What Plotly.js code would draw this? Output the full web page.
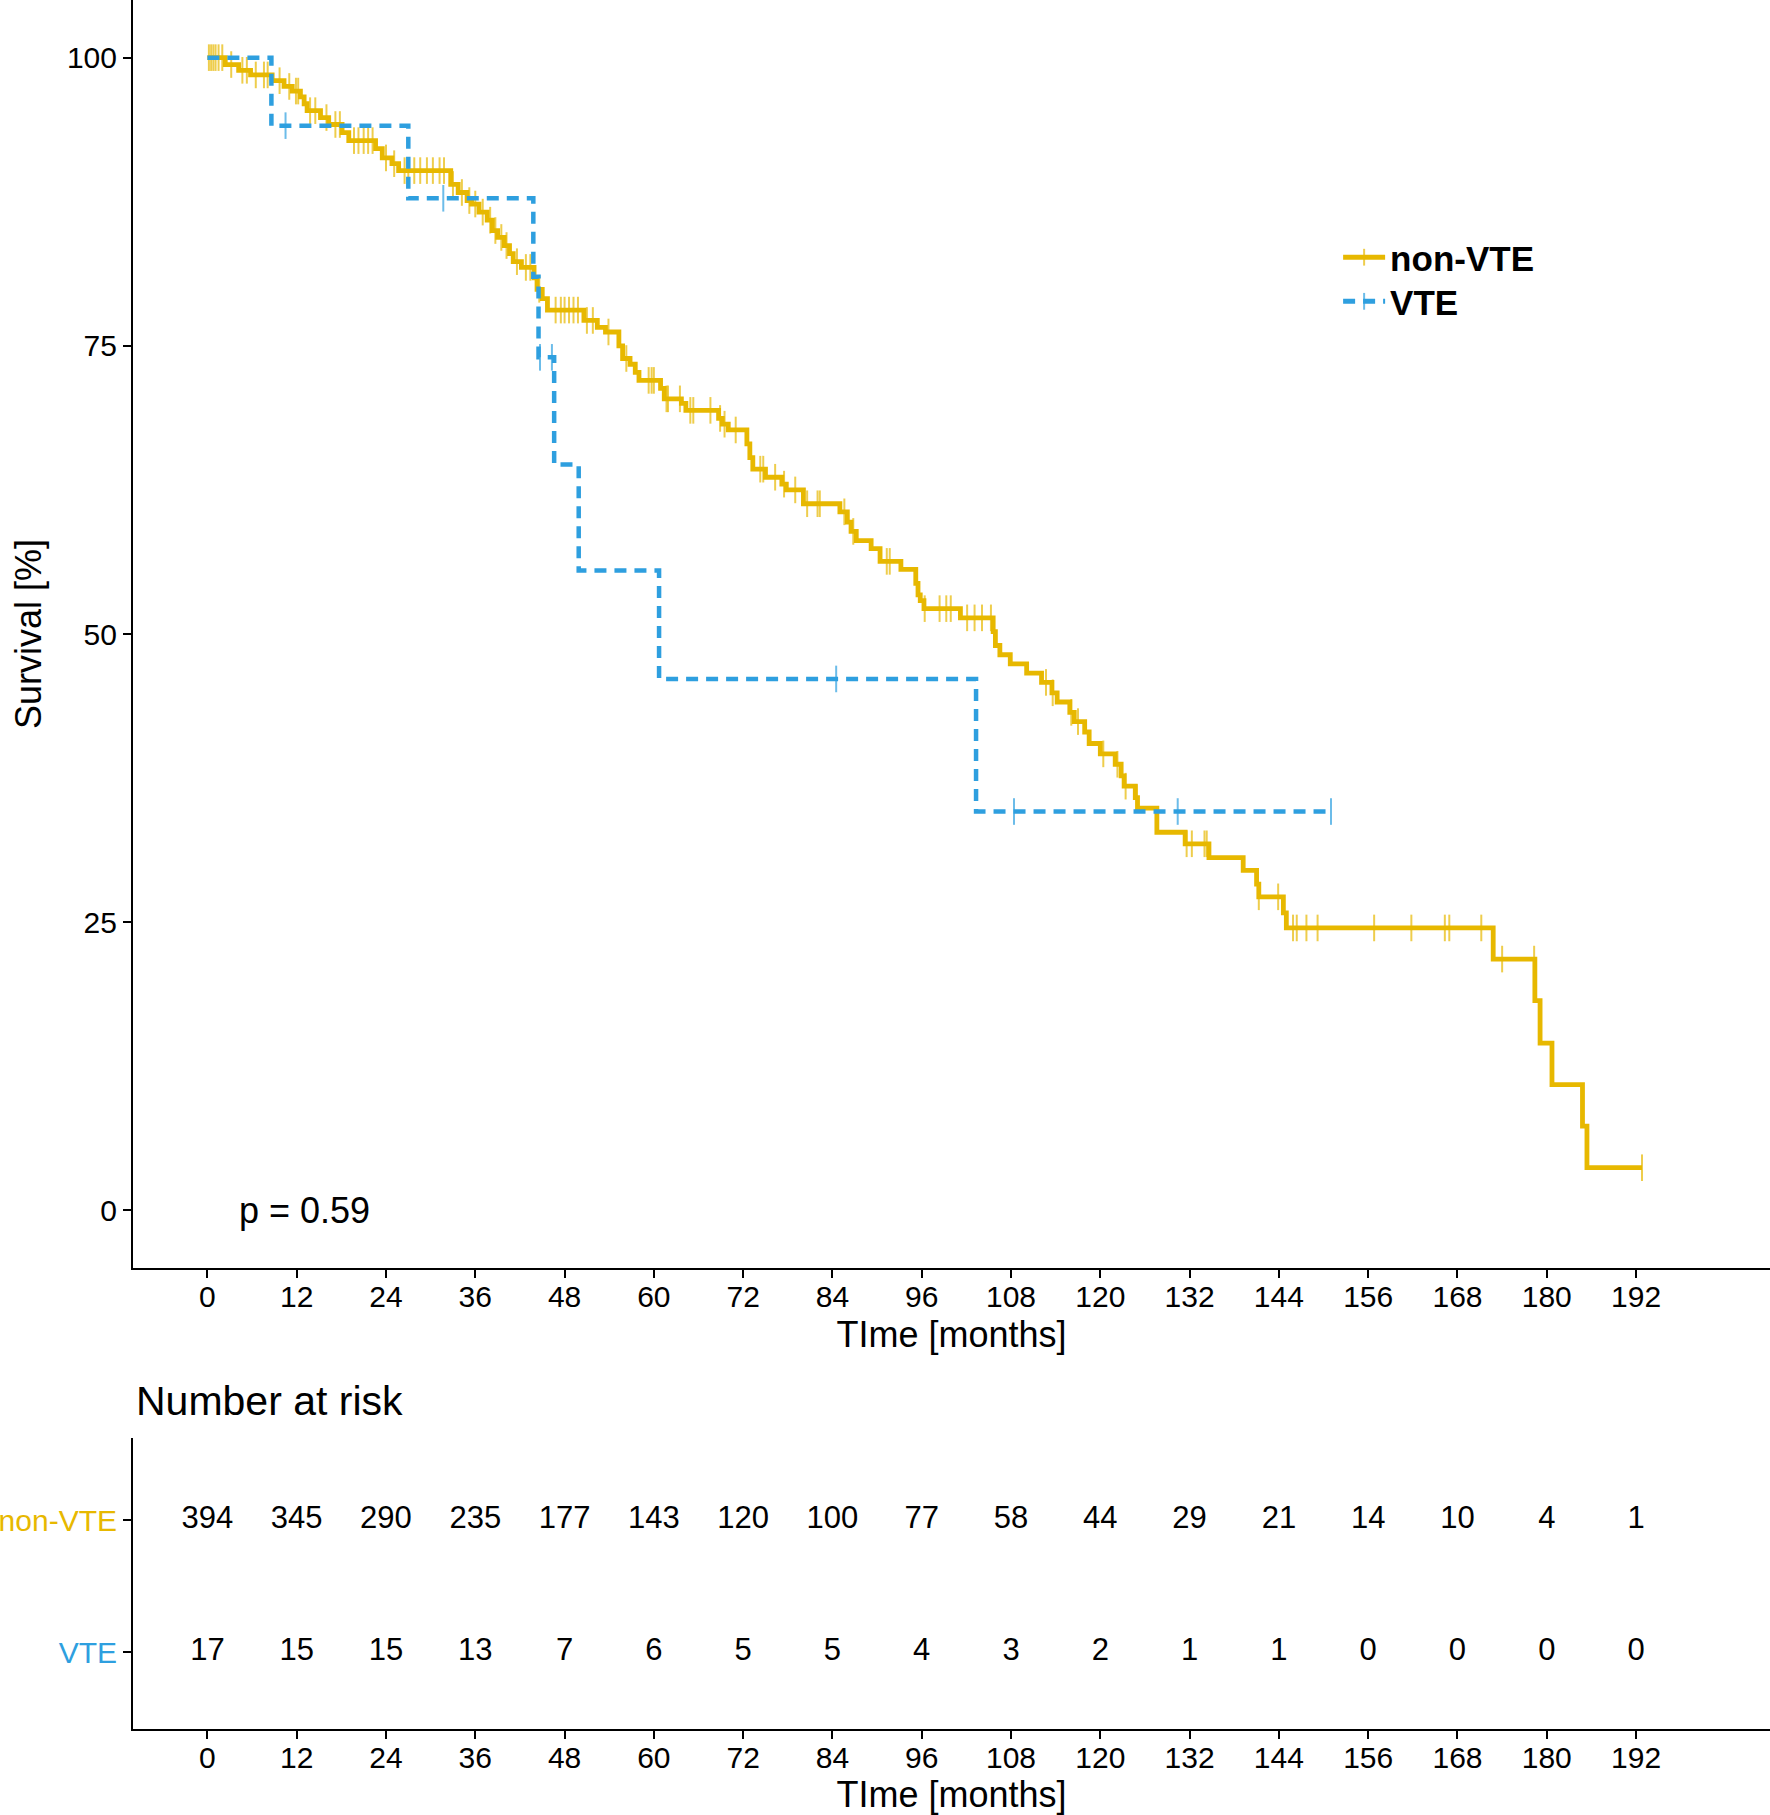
<!DOCTYPE html>
<html>
<head>
<meta charset="utf-8">
<script src="https://cdn.plot.ly/plotly-3.0.1.min.js"></script>
<style>html,body{margin:0;padding:0;background:#fff;}#chart{width:1770px;height:1815px;}</style>
</head>
<body>
<div id="chart"></div>
<script>
// ---- data ----
const months = [0,12,24,36,48,60,72,84,96,108,120,132,144,156,168,180,192];
const riskNonVTE = [394,345,290,235,177,143,120,100,77,58,44,29,21,14,10,4,1];
const riskVTE = [17,15,15,13,7,6,5,5,4,3,2,1,1,0,0,0,0];

// non-VTE Kaplan-Meier steps: time of step and survival [%] after it
const nonVteTime = [0,2.4,4.2,5.8,8.7,10.3,11.4,12.5,13.0,13.4,15.2,16.3,18.1,19.0,22.6,23.5,24.8,25.7,
  32.7,33.7,34.9,35.5,36.5,37.6,38.3,39.0,39.9,40.6,41.1,42.2,43.9,44.3,45.0,45.7,
  50.6,52.4,53.5,55.3,55.8,56.8,57.5,58.0,60.9,61.4,63.7,64.3,68.7,69.2,70.0,
  72.5,72.9,73.3,75.0,77.2,77.8,80.1,85.0,86.0,86.5,87.2,89.2,90.4,93.2,95.2,95.5,95.8,96.3,
  101.2,105.6,105.9,106.5,107.9,110.1,112.1,113.5,114.2,115.9,116.5,117.9,118.5,120.0,
  122.0,122.8,123.2,124.7,125.0,127.6,131.4,134.6,139.2,141.0,141.3,144.6,145.0,
  172.8,178.4,179.1,180.7,184.8,185.4,192.8];
const nonVteSurv = [100,99.4,98.9,98.5,98.0,97.5,97.1,96.6,96.0,95.4,94.8,94.2,93.5,92.8,92.1,91.3,90.8,90.2,
  89.0,88.3,87.6,87.3,86.6,85.9,85.0,84.4,83.7,83.0,82.3,81.8,80.9,79.9,79.1,78.1,
  77.2,76.6,76.2,75.0,73.9,73.4,72.7,72.0,71.3,70.4,70.0,69.4,68.7,68.2,67.7,
  66.5,65.3,64.3,63.6,63.0,62.5,61.3,60.6,59.7,58.9,58.1,57.4,56.3,55.6,54.4,53.4,52.9,52.2,
  51.4,50.2,49.0,48.2,47.4,46.6,45.8,44.9,44.1,43.2,42.4,41.5,40.5,39.6,
  38.7,37.7,36.8,35.8,34.9,32.8,31.8,30.6,29.5,28.3,27.2,25.8,24.5,
  21.8,18.2,14.5,10.9,7.3,3.7,3.7];
const nonVteCensor = [0.2,0.5,0.8,1.1,1.5,2.0,3.2,4.7,5.3,6.5,7.6,8.1,9.7,11.0,11.9,12.2,13.8,14.5,16.0,17.2,17.8,
  19.7,20.3,21.0,21.6,22.2,24.0,25.1,26.5,27.0,27.8,28.6,29.5,30.3,31.2,31.8,33.0,34.2,35.2,36.0,37.0,38.0,
  38.7,39.5,40.2,41.6,42.8,43.4,44.6,46.8,47.5,48.0,48.6,49.2,49.8,51.0,51.8,53.9,56.3,59.3,59.7,60.0,61.7,
  61.9,63.5,64.9,65.3,67.6,68.9,69.5,71.0,74.3,74.7,76.3,77.5,79.0,80.6,82.0,82.3,85.6,86.8,91.3,91.7,96.4,
  98.4,99.3,99.9,102.1,103.1,104.1,105.3,112.7,113.6,116.1,117.0,120.4,122.3,123.4,124.9,131.6,132.3,134.0,
  134.3,141.3,143.9,145.9,146.4,147.7,149.2,156.8,161.8,166.3,166.9,171.2,174.0,178.3,192.8];

// VTE Kaplan-Meier steps
const vteTime = [0,8.6,27.0,43.8,44.5,46.6,49.9,60.7,103.3,151.0];
const vteSurv = [100,94.1,87.8,81.0,74.0,64.7,55.5,46.1,34.6,34.6];
const vteCensor = [10.5,31.7,44.7,46.3,84.5,108.4,130.4,151.0];

const groups = ["non-VTE","VTE"];
const pText = "p = 0.59";

// ---- styling ----
const YEL = "#E7B800", BLU = "#2E9FDF";
const FONT = "Liberation Sans, Arial, Helvetica, sans-serif";
const CENSOR_SIZE = 19;

function stepAt(times, surv, t){
  let v = surv[0];
  for (let i=0;i<times.length;i++){ if (times[i] <= t) v = surv[i]; }
  return v;
}
// merge step points and censor points into one step trace; censors get a tick marker
function buildCurve(times, surv, censors){
  const pts = times.map((t,i)=>({t:t, s:surv[i], m:0, o:0}))
    .concat(censors.map(t=>({t:t, s:stepAt(times,surv,t), m:CENSOR_SIZE, o:1})));
  pts.sort((a,b)=> a.t-b.t || a.o-b.o);
  return {x:pts.map(p=>p.t), y:pts.map(p=>p.s), size:pts.map(p=>p.m)};
}
const cNon = buildCurve(nonVteTime, nonVteSurv, nonVteCensor);
const cVte = buildCurve(vteTime, vteSurv, vteCensor);

const traces = [
  {x: cNon.x, y: cNon.y, type:"scatter", mode:"lines+markers", name: groups[0], legend:"legend",
   line:{shape:"hv", color:YEL, width:4.8},
   marker:{symbol:"line-ns-open", size:cNon.size, color:YEL, line:{color:YEL, width:2}},
   xaxis:"x", yaxis:"y"},
  {x: cVte.x, y: cVte.y, type:"scatter", mode:"lines+markers", name: groups[1], legend:"legend2",
   line:{shape:"hv", color:BLU, width:4.5, dash:"12px,8px"},
   marker:{symbol:"line-ns-open", size:cVte.size, color:BLU, line:{color:BLU, width:2}},
   xaxis:"x", yaxis:"y"},
  {x: months, y: months.map(()=>2), text: riskNonVTE.map(String), type:"scatter", mode:"text",
   showlegend:false, textfont:{family:FONT, size:31, color:"#000"}, xaxis:"x2", yaxis:"y2"},
  {x: months, y: months.map(()=>1), text: riskVTE.map(String), type:"scatter", mode:"text",
   showlegend:false, textfont:{family:FONT, size:31, color:"#000"}, xaxis:"x2", yaxis:"y2"}
];

const axisCommon = {
  showline:true, linecolor:"#000", linewidth:2, ticks:"outside", ticklen:8, tickwidth:2, tickcolor:"#000",
  showgrid:false, zeroline:false, tickfont:{family:FONT, size:30, color:"#000"}
};
const legendCommon = {xanchor:"left", yanchor:"top", bgcolor:"rgba(0,0,0,0)", itemsizing:"constant",
  font:{family:FONT, size:35, color:"#000", weight:"bold"}, itemwidth:42, tracegroupgap:0};

const layout = {
  width:1770, height:1815, margin:{l:0,r:0,t:0,b:0}, paper_bgcolor:"#fff", plot_bgcolor:"#fff",
  font:{family:FONT, color:"#000"},
  showlegend:true,
  legend: Object.assign({}, legendCommon, {x:0.756, y:0.8744}),
  legend2: Object.assign({}, legendCommon, {x:0.756, y:0.8501}),
  xaxis: Object.assign({}, axisCommon, {domain:[0.07514,1], range:[-10,210], tickvals:months,
    ticktext:months.map(String), anchor:"y", ticklabelstandoff:-7,
    title:{text:"TIme [months]", font:{family:FONT, size:36, color:"#000"}, standoff:10}}),
  yaxis: Object.assign({}, axisCommon, {domain:[0.30138,1], range:[-5,105], tickvals:[0,25,50,75,100],
    anchor:"x", title:{text:"Survival [%]", font:{family:FONT, size:36, color:"#000"}, standoff:14}}),
  xaxis2: Object.assign({}, axisCommon, {domain:[0.07514,1], range:[-10,210], tickvals:months,
    ticktext:months.map(String), anchor:"y2", ticklabelstandoff:-7,
    title:{text:"TIme [months]", font:{family:FONT, size:36, color:"#000"}, standoff:10}}),
  yaxis2: Object.assign({}, axisCommon, {domain:[0.04738,0.20771], range:[0.42,2.62], tickvals:[2,1],
    ticktext:['<span style="color:'+YEL+'">'+groups[0]+'</span>','<span style="color:'+BLU+'">'+groups[1]+'</span>'],
    anchor:"x2", tickfont:{family:FONT, size:30, color:"#000"}}),
  annotations:[
    {text:pText, xref:"x", yref:"y", x:4, y:0, xanchor:"left", yanchor:"middle", showarrow:false,
     font:{family:FONT, size:36, color:"#000"}},
    {text:"Number at risk", xref:"paper", yref:"paper", x:0.0757, y:1-1401/1815, xanchor:"left", yanchor:"middle",
     showarrow:false, font:{family:FONT, size:41, color:"#000"}}
  ]
};

Plotly.newPlot("chart", traces, layout, {staticPlot:true, displayModeBar:false});
</script>
</body>
</html>
